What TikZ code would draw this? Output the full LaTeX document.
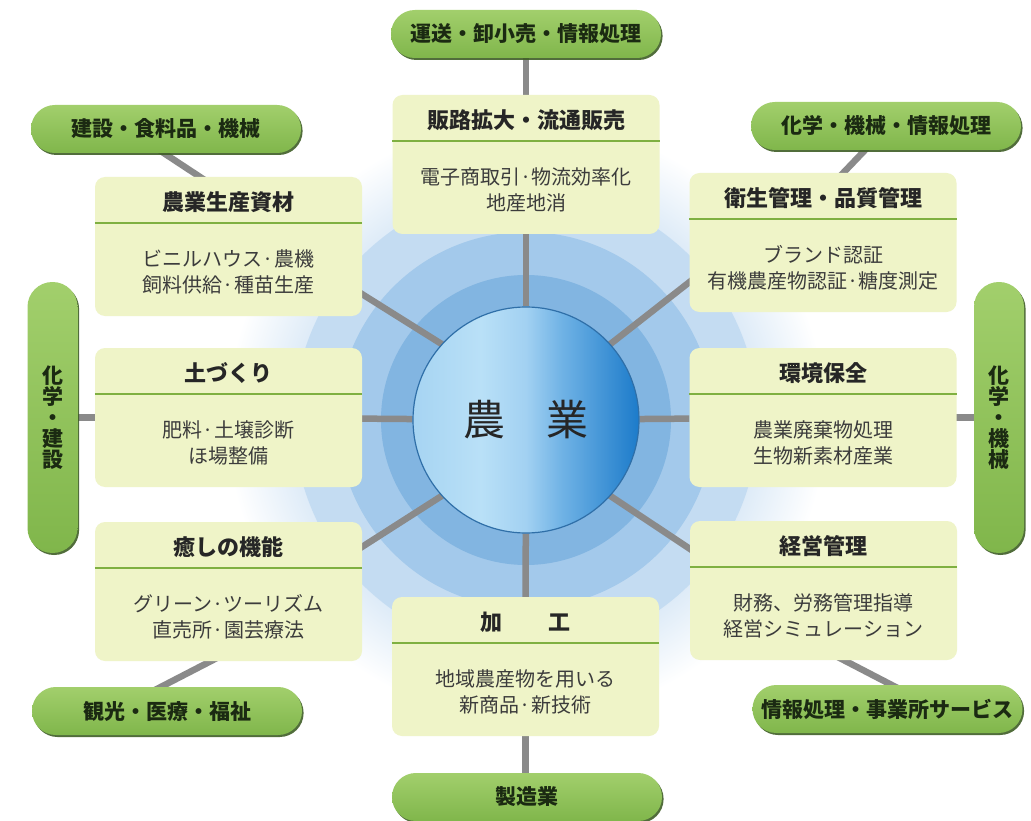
\documentclass[tikz,border=0pt]{standalone}
\usepackage{fontspec}
\setmainfont{Noto Sans CJK JP}
\usetikzlibrary{calc,shadows}
\pgfdeclarelayer{rings}
\pgfdeclarelayer{links}
\pgfsetlayers{rings,links,main}
\definecolor{boxfill}{HTML}{EFF4C8}
\definecolor{divgreen}{HTML}{7FB041}
\definecolor{pillA}{HTML}{A2CF6C}
\definecolor{pillB}{HTML}{80B64B}
\definecolor{pillshadow}{HTML}{3F5E26}
\definecolor{linkgray}{HTML}{8A8A8A}
\definecolor{ringA}{HTML}{82B5E1}
\definecolor{ringB}{HTML}{A3C9EB}
\definecolor{ringC}{HTML}{C4DCF2}
\definecolor{ringD}{HTML}{DCEAF7}
\definecolor{txt}{HTML}{262626}
\definecolor{pilltxt}{HTML}{1B2A12}
\definecolor{coreA}{HTML}{A6D4F2}
\definecolor{coreB}{HTML}{B9E0F7}
\definecolor{coreC}{HTML}{A2D1F2}
\definecolor{coreD}{HTML}{6FB2E5}
\definecolor{coreE}{HTML}{1C7BCA}
\definecolor{coreedge}{HTML}{2F6FA8}
\pgfdeclarehorizontalshading{coreshade}{100bp}{color(0bp)=(coreA); color(25bp)=(coreA); color(40bp)=(coreB); color(50bp)=(coreC); color(58bp)=(coreD); color(75bp)=(coreE); color(100bp)=(coreE)}
\pgfdeclareradialshading{glowshade}{\pgfpoint{0bp}{0bp}}{color(0bp)=(ringD); color(19bp)=(ringD); color(25bp)=(white); color(50bp)=(white)}
\tikzset{
  catbox/.style={fill=boxfill, rounded corners=10pt, minimum width=267pt, minimum height=139pt, inner sep=0pt},
  cattitle/.style={font=\fontsize{22}{24}\selectfont\bfseries, text=txt, inner sep=0pt},
  catbody/.style={font=\fontsize{20}{26}\selectfont, text=txt!90, align=center, inner sep=0pt},
  pill/.style={top color=pillA, bottom color=pillB, rounded corners=23.9pt, minimum width=270pt, minimum height=48pt, inner sep=0pt, font=\fontsize{21}{21}\selectfont\bfseries, text=pilltxt, drop shadow={shadow xshift=1.6pt, shadow yshift=-2pt, fill=pillshadow, opacity=0.9}},
  vpill/.style={pill, minimum width=50pt, minimum height=271pt, rounded corners=24.9pt, align=center},
  linkline/.style={draw=linkgray, line width=6.5pt},
  ext/.style={shorten <=-14pt, shorten >=-14pt}
}
\newcommand\mkcat[5]{%
  \node[catbox] (#1) at (#2,#3+69.5) {};
  \node[cattitle] (#1-title) at (#2,#3+25) {#4};
  \node[catbody] (#1-body) at (#2,#3+95) {#5};
  \draw[divgreen, line width=2pt] ($(#1.north west)+(0,46)$) -- ($(#1.north east)+(0,46)$);
}
\begin{document}
\begin{tikzpicture}[x=1pt,y=-1pt]
\useasboundingbox (0,0) rectangle (1031,821);
% center
\node[circle, minimum size=226pt, inner sep=0pt, shading=coreshade, draw=coreedge, line width=1.2pt,
      font=\fontsize{42}{44}\selectfont, text=txt] (core) at (526,420) {農\hspace{41pt}業};
% category boxes
\mkcat{bxtop}{526}{95}{販路拡大・流通販売}{電子商取引·物流効率化\\地産地消}
\mkcat{bxlt}{228.5}{177}{農業生産資材}{ビニルハウス·農機\\飼料供給·種苗生産}
\mkcat{bxrt}{823}{173}{衛生管理・品質管理}{ブランド認証\\有機農産物認証·糖度測定}
\mkcat{bxl}{228.5}{348}{土づくり}{肥料·土壌診断\\ほ場整備}
\mkcat{bxr}{823}{348}{環境保全}{農業廃棄物処理\\生物新素材産業}
\mkcat{bxlb}{228.5}{522}{癒しの機能}{グリーン·ツーリズム\\直売所·園芸療法}
\mkcat{bxrb}{823.5}{521}{経営管理}{財務、労務管理指導\\経営シミュレーション}
\mkcat{bxbot}{525.5}{597}{加\hspace{46pt}工}{地域農産物を用いる\\新商品·新技術}
% industry pills
\node[pill] (ptop) at (526,34) {運送・卸小売・情報処理};
\node[pill] (plt) at (166,129) {建設・食料品・機械};
\node[pill] (prt) at (886,126) {化学・機械・情報処理};
\node[vpill] (pl) at (52.5,417.5) {化\\学\\・\\建\\設};
\node[vpill] (pr) at (999,417.5) {化\\学\\・\\機\\械};
\node[pill] (plb) at (167,711) {観光・医療・福祉};
\node[pill] (prb) at (887.5,709) {情報処理・事業所サービス};
\node[pill] (pbot) at (527,797) {製造業};
% background rings
\begin{pgfonlayer}{rings}
  \fill[white] (0,0) rectangle (1031,821);
  \shade[shading=glowshade] (core.center) circle (300);
  \fill[ringC] (core.center) circle (232);
  \fill[ringB] (core.center) circle (188);
  \fill[ringA] (core.center) circle (145);
\end{pgfonlayer}
% connectors
\begin{pgfonlayer}{links}
  \draw[linkline] (core) -- (bxtop);
  \draw[linkline] (core) -- (bxbot);
  \draw[linkline] (core) -- (bxl);
  \draw[linkline] (core) -- (bxr);
  \draw[linkline, ext] (core.138) -- ($(bxlt.south east)+(0,-22)$);
  \draw[linkline, ext] (core.42) -- ($(bxrt.south west)+(0,-30)$);
  \draw[linkline, ext] (core.222) -- ($(bxlb.north east)+(0,25)$);
  \draw[linkline, ext] (core.318) -- ($(bxrb.north west)+(0,28)$);
  \draw[linkline] (ptop) -- (bxtop);
  \draw[linkline] (bxbot) -- (bxbot |- pbot);
  \draw[linkline] (pl) -- (pl -| bxl);
  \draw[linkline] (pr) -- (pr -| bxr);
  \draw[linkline, ext] ($(plt.south)+(1,2)$) -- ($(bxlt.north west)+(105,0)$);
  \draw[linkline, ext] ($(prt.south)+(-23,2)$) -- ($(bxrt.north west)+(154,0)$);
  \draw[linkline, ext] ($(bxlb.south west)+(112,2)$) -- ($(plb.north)+(-2,-2)$);
  \draw[linkline, ext] ($(bxrb.south west)+(158,2)$) -- ($(prb.north)+(0,-2)$);
\end{pgfonlayer}
\end{tikzpicture}
\end{document}
